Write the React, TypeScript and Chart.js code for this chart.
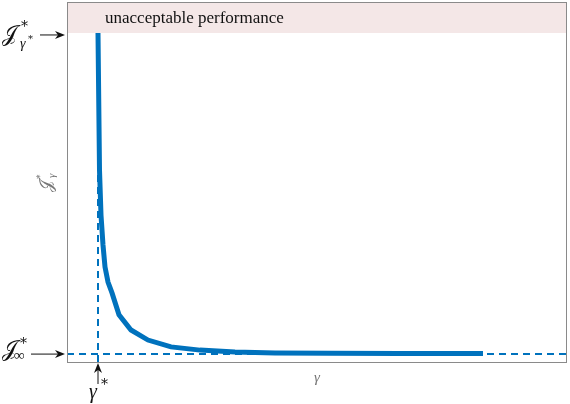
import React, { useEffect, useRef } from "react";
import { Chart, registerables } from "chart.js";

Chart.register(...registerables);

// Data (arbitrary units: gamma on 0..100, J on 0..100)
const gammaValues = [6.2, 6.5, 6.8, 7.2, 7.6, 8.2, 9.0, 10.4, 12.8, 16.2, 20.8, 26.6, 33.6, 41.6, 52.6, 66.6, 83.2];
const costValues = [91.4, 53.3, 40.8, 32.5, 26.4, 22.2, 19.2, 13.1, 8.9, 6.1, 4.2, 3.3, 2.8, 2.5, 2.4, 2.35, 2.35];
const gammaStar = 6.2;
const costInf = 2.2;
const costGammaStar = 91.4;
const xRange = [0, 100];
const yRange = [0, 100];
const bandLabel = "unacceptable performance";

const BLUE = "#0072BD";

const annotPlugin = {
  id: "annot",
  beforeDatasetsDraw(chart: any) {
    const { ctx, chartArea, scales } = chart;
    const x = scales.x, y = scales.y;
    ctx.save();
    // pink band
    const yb = y.getPixelForValue(costGammaStar);
    ctx.fillStyle = "#F4E7E7";
    ctx.fillRect(chartArea.left, chartArea.top, chartArea.right - chartArea.left, yb - chartArea.top);
    ctx.fillStyle = "#111";
    ctx.font = "17px 'Liberation Serif', serif";
    ctx.textBaseline = "middle";
    ctx.textAlign = "left";
    ctx.fillText(bandLabel, x.getPixelForValue(gammaStar) + 7, (chartArea.top + yb) / 2 + 1);
    ctx.restore();
  },
  afterDraw(chart: any) {
    const { ctx, chartArea, scales } = chart;
    const x = scales.x, y = scales.y;
    ctx.save();
    // frame
    ctx.strokeStyle = "#8a8a8a";
    ctx.lineWidth = 1;
    ctx.strokeRect(chartArea.left + 0.5, chartArea.top + 0.5, chartArea.right - chartArea.left - 1, chartArea.bottom - chartArea.top);

    const arrowH = (x0: number, x1: number, yy: number) => {
      ctx.strokeStyle = "#111";
      ctx.fillStyle = "#111";
      ctx.lineWidth = 1;
      ctx.beginPath();
      ctx.moveTo(x0, yy);
      ctx.lineTo(x1 - 6, yy);
      ctx.stroke();
      ctx.beginPath();
      ctx.moveTo(x1, yy);
      ctx.lineTo(x1 - 10, yy - 4);
      ctx.lineTo(x1 - 7, yy);
      ctx.lineTo(x1 - 10, yy + 4);
      ctx.closePath();
      ctx.fill();
    };
    const arrowV = (xx: number, y0: number, y1: number) => {
      ctx.strokeStyle = "#111";
      ctx.fillStyle = "#111";
      ctx.lineWidth = 1;
      ctx.beginPath();
      ctx.moveTo(xx, y0);
      ctx.lineTo(xx, y1 + 6);
      ctx.stroke();
      ctx.beginPath();
      ctx.moveTo(xx, y1);
      ctx.lineTo(xx - 4, y1 + 10);
      ctx.lineTo(xx, y1 + 7);
      ctx.lineTo(xx + 4, y1 + 10);
      ctx.closePath();
      ctx.fill();
    };

    const yTop = y.getPixelForValue(costGammaStar) + 2;
    const yInf = y.getPixelForValue(costInf);
    const xg = x.getPixelForValue(gammaStar);
    arrowH(40, chartArea.left - 2, yTop);
    arrowH(31, chartArea.left - 2, yInf);
    arrowV(xg, 384, chartArea.bottom + 1);

    ctx.fillStyle = "#111";
    ctx.textAlign = "left";
    ctx.textBaseline = "alphabetic";
    const J = "\u{1D4A5}";
    // J*_{gamma*}
    ctx.font = "22px 'DejaVu Serif', serif";
    ctx.fillText(J, 2, yTop + 6);
    ctx.font = "14px 'DejaVu Serif', serif";
    ctx.fillText("*", 21, yTop - 4);
    ctx.font = "italic 14px 'Liberation Serif', serif";
    ctx.fillText("\u03B3", 20, yTop + 13);
    ctx.font = "10px 'DejaVu Serif', serif";
    ctx.fillText("*", 28, yTop + 7);
    // J*_inf
    ctx.font = "22px 'DejaVu Serif', serif";
    ctx.fillText(J, 2, yInf + 2);
    ctx.font = "14px 'DejaVu Serif', serif";
    ctx.fillText("*", 20, yInf - 6);
    ctx.font = "15px 'Liberation Serif', serif";
    ctx.fillText("\u221E", 14, yInf + 6);
    // gamma*
    ctx.font = "italic 20px 'Liberation Serif', serif";
    ctx.fillText("\u03B3", xg - 9, 398);
    ctx.font = "14px 'DejaVu Serif', serif";
    ctx.fillText("*", xg + 3, 389);

    // axis labels (gray)
    ctx.fillStyle = "#777";
    ctx.font = "italic 15px 'Liberation Serif', serif";
    ctx.textAlign = "center";
    ctx.fillText("\u03B3", (chartArea.left + chartArea.right) / 2 + 0, 382);
    ctx.translate(52, 184);
    ctx.rotate(-Math.PI / 2);
    ctx.font = "17px 'DejaVu Serif', serif";
    ctx.textAlign = "left";
    ctx.fillText(J, -8, 0);
    ctx.font = "9px 'DejaVu Serif', serif";
    ctx.fillText("*", 5, -9);
    ctx.font = "italic 11px 'Liberation Serif', serif";
    ctx.fillText("\u03B3", 6, 3);
    ctx.restore();
  },
};

export default function App() {
  const ref = useRef<HTMLCanvasElement | null>(null);
  useEffect(() => {
    document.body.style.margin = "0";
    const curve = gammaValues.map((g, i) => ({ x: g, y: costValues[i] }));
    const chart = new Chart(ref.current as HTMLCanvasElement, {
      type: "line",
      data: {
        datasets: [
          {
            data: curve,
            borderColor: BLUE,
            borderWidth: 5,
            pointRadius: 0,
            tension: 0,
            order: 0,
          },
          {
            data: [{ x: xRange[0], y: costInf }, { x: xRange[1], y: costInf }],
            borderColor: BLUE,
            borderWidth: 2,
            borderDash: [7, 5],
            pointRadius: 0,
            order: 1,
          },
          {
            data: [{ x: gammaStar, y: yRange[0] }, { x: gammaStar, y: costGammaStar }],
            borderColor: BLUE,
            borderWidth: 2,
            borderDash: [7, 5],
            pointRadius: 0,
            order: 2,
          },
        ],
      },
      options: {
        animation: false,
        responsive: false,
        events: [],
        layout: { padding: { left: 67, right: 3, top: 2, bottom: 42 } },
        plugins: { legend: { display: false }, tooltip: { enabled: false } },
        scales: {
          x: { type: "linear", min: xRange[0], max: xRange[1], display: false },
          y: { type: "linear", min: yRange[0], max: yRange[1], display: false },
        },
      },
      plugins: [annotPlugin],
    });
    return () => chart.destroy();
  }, []);
  return (
    <div style={{ position: "absolute", left: 0, top: 0, width: 570, height: 404 }}>
      <canvas ref={ref} width={570} height={404} style={{ width: 570, height: 404 }} />
    </div>
  );
}
